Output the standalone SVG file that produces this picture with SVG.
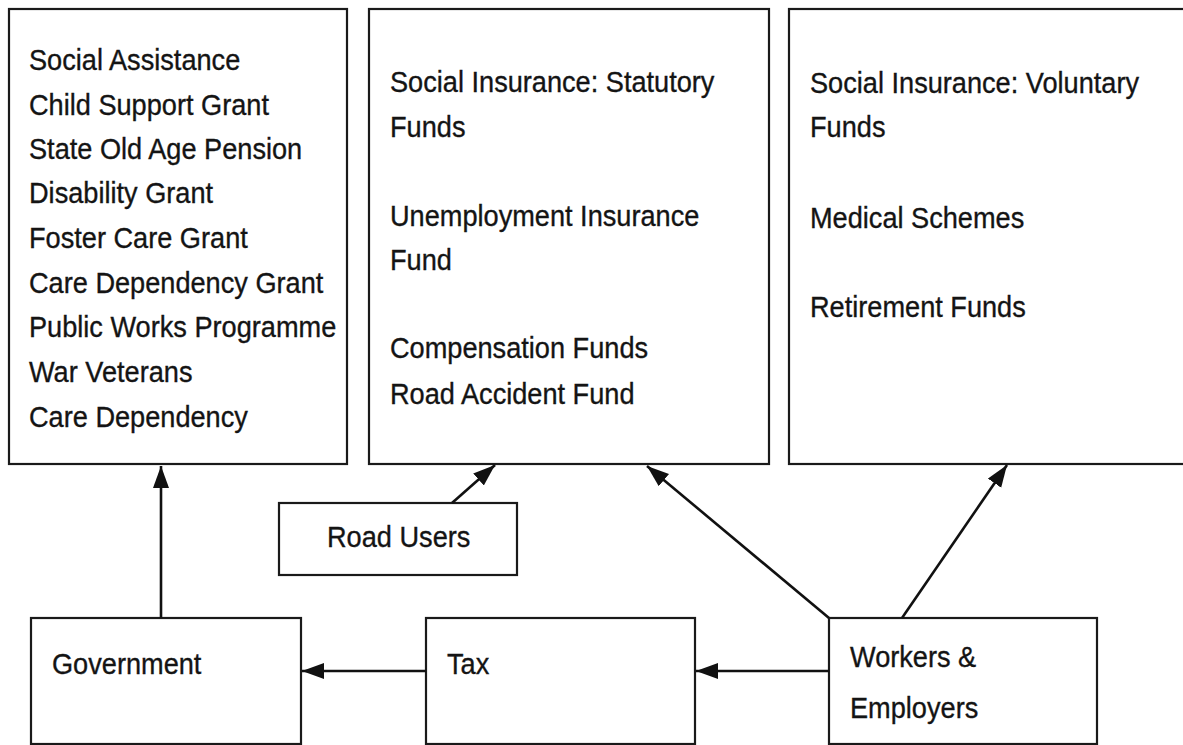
<svg xmlns="http://www.w3.org/2000/svg" width="1183" height="745" viewBox="0 0 1183 745">
  <style>
    .box { fill: #ffffff; stroke: #1a1a1a; stroke-width: 2.2; }
    .lbl { font-family: "Liberation Sans", Arial, Helvetica, sans-serif; font-size: 30px; fill: #141414; stroke: #141414; stroke-width: 0.35; }
    .link { fill: none; stroke: #111111; stroke-width: 2.6; marker-end: url(#head); }
  </style>
  <defs>
    <marker id="head" markerUnits="userSpaceOnUse" markerWidth="24" markerHeight="18" refX="22" refY="8" orient="auto">
      <path d="M0,0 L22,8 L0,16 Z" fill="#111111"/>
    </marker>
  </defs>
  <rect width="1183" height="745" fill="#ffffff"/>

  <!-- Social assistance programmes -->
  <g id="social-assistance">
    <rect class="box" x="9" y="9" width="338" height="455"/>
    <g class="lbl" transform="translate(29,0) scale(0.905,1)">
      <text x="0" y="70">Social Assistance</text>
      <text x="0" y="115">Child Support Grant</text>
      <text x="0" y="159">State Old Age Pension</text>
      <text x="0" y="203">Disability Grant</text>
      <text x="0" y="248">Foster Care Grant</text>
      <text x="0" y="293">Care Dependency Grant</text>
      <text x="0" y="337">Public Works Programme</text>
      <text x="0" y="382">War Veterans</text>
      <text x="0" y="427">Care Dependency</text>
    </g>
  </g>

  <!-- Statutory social insurance funds -->
  <g id="statutory-funds">
    <rect class="box" x="369" y="9" width="400" height="455"/>
    <g class="lbl" transform="translate(390,0) scale(0.905,1)">
      <text x="0" y="92">Social Insurance: Statutory</text>
      <text x="0" y="137">Funds</text>
      <text x="0" y="226">Unemployment Insurance</text>
      <text x="0" y="270">Fund</text>
      <text x="0" y="358">Compensation Funds</text>
      <text x="0" y="404">Road Accident Fund</text>
    </g>
  </g>

  <!-- Voluntary social insurance funds -->
  <g id="voluntary-funds">
    <rect class="box" x="789" y="9" width="420" height="455"/>
    <g class="lbl" transform="translate(810,0) scale(0.905,1)">
      <text x="0" y="93">Social Insurance: Voluntary</text>
      <text x="0" y="137">Funds</text>
      <text x="0" y="228">Medical Schemes</text>
      <text x="0" y="317">Retirement Funds</text>
    </g>
  </g>

  <!-- Road users -->
  <g id="road-users">
    <rect class="box" x="279" y="503" width="238" height="72"/>
    <g class="lbl" transform="translate(327,0) scale(0.905,1)">
      <text x="0" y="547">Road Users</text>
    </g>
  </g>

  <!-- Government -->
  <g id="government">
    <rect class="box" x="31" y="618" width="270" height="126"/>
    <g class="lbl" transform="translate(52,0) scale(0.905,1)">
      <text x="0" y="674">Government</text>
    </g>
  </g>

  <!-- Tax -->
  <g id="tax">
    <rect class="box" x="426" y="618" width="269" height="126"/>
    <g class="lbl" transform="translate(447,0) scale(0.905,1)">
      <text x="0" y="674">Tax</text>
    </g>
  </g>

  <!-- Workers and employers -->
  <g id="workers-employers">
    <rect class="box" x="829" y="618" width="268" height="126"/>
    <g class="lbl" transform="translate(850,0) scale(0.905,1)">
      <text x="0" y="667">Workers &amp;</text>
      <text x="0" y="718">Employers</text>
    </g>
  </g>

  <!-- Flows between nodes -->
  <g id="connectors">
    <line class="link" x1="161" y1="618" x2="161" y2="466"/>
    <line class="link" x1="452" y1="503" x2="495" y2="465"/>
    <line class="link" x1="426" y1="671" x2="302" y2="671"/>
    <line class="link" x1="829" y1="671" x2="696" y2="671"/>
    <line class="link" x1="829" y1="618" x2="647" y2="466"/>
    <line class="link" x1="902" y1="618" x2="1007" y2="465"/>
  </g>
</svg>
